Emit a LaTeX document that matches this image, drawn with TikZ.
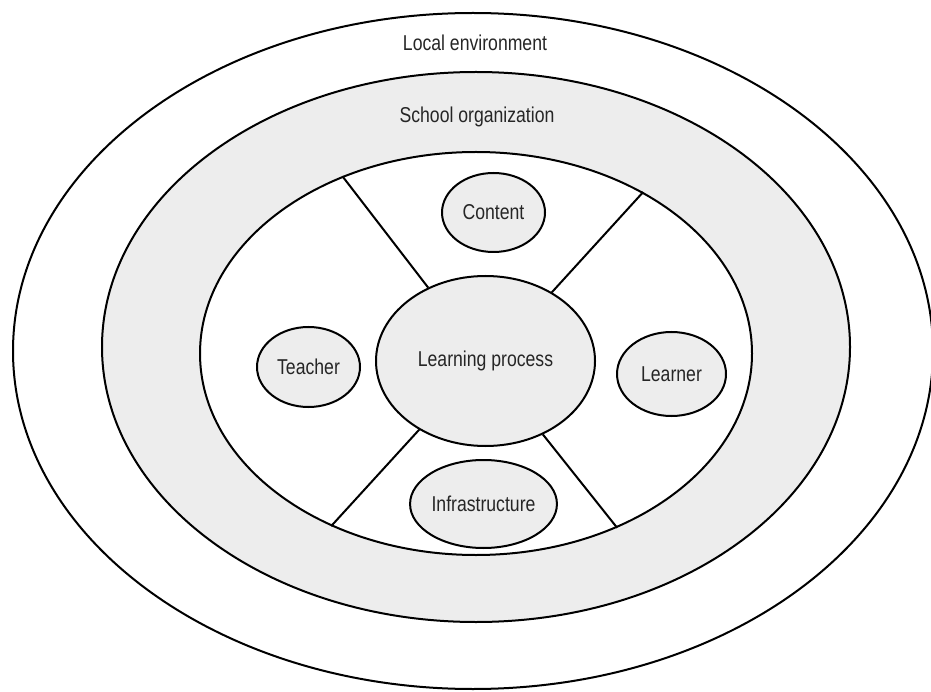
\documentclass[tikz,border=0pt]{standalone}
\usepackage{fontspec}
\setmainfont{Liberation Sans}[FakeStretch=0.82]
\usepackage{tikz}
\usetikzlibrary{shapes,positioning,calc}

\definecolor{ringgray}{HTML}{EDEDED}
\definecolor{inkgray}{HTML}{262626}

\begin{document}
\begin{tikzpicture}[x=1pt,y=-1pt,
    ring/.style={ellipse, draw, line width=2pt, inner sep=0pt},
    bubble/.style={ellipse, draw, line width=2pt, fill=ringgray, inner sep=0pt,
        font=\fontsize{21.5}{24}\selectfont, text=inkgray},
    lbl/.style={font=\fontsize{21.5}{24}\selectfont, text=inkgray},
    spoke/.style={line width=2pt}]
    \useasboundingbox (0,0) rectangle (931,692);
    % rings
    \node[ring, fill=white, minimum width=920, minimum height=676] (env) at (473,351) {};
    \node[ring, fill=ringgray, minimum width=748, minimum height=550] (school) at (476,347) {};
    \node[ring, fill=white, minimum width=552, minimum height=403] (inner) at (476,353.5) {};
    \node[lbl] (envlbl) at (475,43) {Local environment};
    \node[lbl] (schoollbl) at (477,117) {School organization};
    % centre and spokes
    \node[bubble, minimum width=219, minimum height=170] (lp) at (485.5,361) {Learning process};
    \draw[spoke] (lp.128) -- (inner.127.5);
    \draw[spoke] (lp.46) -- (inner.44);
    \draw[spoke] (lp.226) -- (inner.230);
    \draw[spoke] (lp.308.5) -- (inner.309.5);
    % the four parts
    \node[bubble, minimum width=103, minimum height=79] (content) at (493.5,212.5) {Content};
    \node[bubble, minimum width=103, minimum height=80] (teacher) at (308.5,367) {Teacher};
    \node[bubble, minimum width=109, minimum height=84] (learner) at (671.5,374) {Learner};
    \node[bubble, minimum width=109, minimum height=88] (infra) at (483.5,504) {Infrastructure};
\end{tikzpicture}
\end{document}
